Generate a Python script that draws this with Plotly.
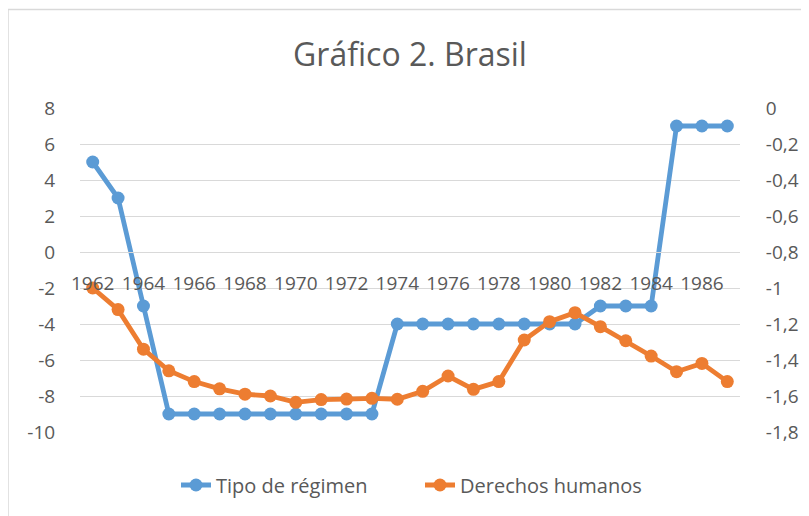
import plotly.graph_objects as go

years = list(range(1962, 1988))
regimen = [5, 3, -3, -9, -9, -9, -9, -9, -9, -9, -9, -9,
           -4, -4, -4, -4, -4, -4, -4, -4, -3, -3, -3, 7, 7, 7]
derechos = [-1.0, -1.12, -1.34, -1.46, -1.52, -1.56, -1.59, -1.60, -1.635, -1.62,
            -1.617, -1.613, -1.618, -1.574, -1.489, -1.563, -1.52, -1.289, -1.187,
            -1.137, -1.215, -1.293, -1.378, -1.465, -1.419, -1.52]

x_ticks = list(range(1962, 1987, 2))
y_left_vals = list(range(-10, 9, 2))
y_right_vals = [-1.8, -1.6, -1.4, -1.2, -1.0, -0.8, -0.6, -0.4, -0.2, 0.0]
y_right_text = ["-1,8", "-1,6", "-1,4", "-1,2", "-1", "-0,8", "-0,6", "-0,4", "-0,2", "0"]

BLUE = "#5B9BD5"
ORANGE = "#ED7D31"
GRID = "#D9D9D9"
TXT = "#595959"
FONT = "Open Sans"

# page body adds an 8px offset; figure sized to fit the window
OFF = 8
W, H = 809 - OFF, 516 - OFF
L, R, T, B = 80 - OFF, 69, 108 - OFF, 84
pw, ph = W - L - R, H - T - B

fig = go.Figure()
fig.add_trace(go.Scatter(x=years, y=regimen, name="Tipo de régimen", mode="lines+markers",
                         line=dict(color=BLUE, width=4.8), marker=dict(size=13, color=BLUE),
                         yaxis="y"))
fig.add_trace(go.Scatter(x=years, y=derechos, name="Derechos humanos", mode="lines+markers",
                         line=dict(color=ORANGE, width=4.8), marker=dict(size=13, color=ORANGE),
                         yaxis="y2"))

ymin, ymax = -10, 8
fig.update_layout(
    width=W, height=H,
    margin=dict(l=L, r=R, t=T, b=B, autoexpand=False),
    paper_bgcolor="white", plot_bgcolor="white",
    font=dict(family=FONT, color=TXT, size=18),
    title=dict(text="Gráfico 2. Brasil", x=(410 - OFF - L) / pw, xref="paper", xanchor="center",
               y=1 - (55 - OFF) / H, yanchor="middle",
               font=dict(size=32, color=TXT, family=FONT)),
    xaxis=dict(range=[1961.5, 1987.5], tickvals=x_ticks, ticktext=[str(v) for v in x_ticks],
               showgrid=False, zeroline=False, showline=True, linecolor=GRID, linewidth=1.3,
               anchor="free", position=(0 - ymin) / (ymax - ymin), ticks="outside",
               ticklen=14, tickcolor="rgba(0,0,0,0)", automargin=False,
               tickfont=dict(size=19, color=TXT, family=FONT)),
    yaxis=dict(range=[ymin, ymax], tickvals=y_left_vals, ticktext=[str(v) for v in y_left_vals],
               showgrid=True, gridcolor=GRID, gridwidth=1.3, zeroline=False, showline=False,
               ticks="outside", ticklen=20, tickcolor="rgba(0,0,0,0)", automargin=False,
               tickfont=dict(size=19, color=TXT, family=FONT)),
    yaxis2=dict(range=[-1.8, 0], tickvals=y_right_vals, ticktext=y_right_text, overlaying="y",
                side="right", showgrid=False, zeroline=False, showline=False,
                ticks="outside", ticklen=21, tickcolor="rgba(0,0,0,0)", automargin=False,
                tickfont=dict(size=19, color=TXT, family=FONT)),
    legend=dict(orientation="h", x=(185 - OFF - 9 - L) / pw, xanchor="left",
                y=-(485 - 432) / ph, yanchor="middle",
                font=dict(size=20, color=TXT, family=FONT), entrywidth=199,
                bgcolor="rgba(0,0,0,0)"),
    shapes=[dict(type="rect", xref="paper", yref="paper",
                 x0=(8 - OFF - L) / pw, x1=(W + 20 - L) / pw,
                 y0=-(H + 20 - (T + ph)) / ph, y1=(T + ph - (9.5 - OFF)) / ph,
                 line=dict(color=GRID, width=1.5), fillcolor="rgba(0,0,0,0)", layer="below")],
)

fig.write_html("out.html")
